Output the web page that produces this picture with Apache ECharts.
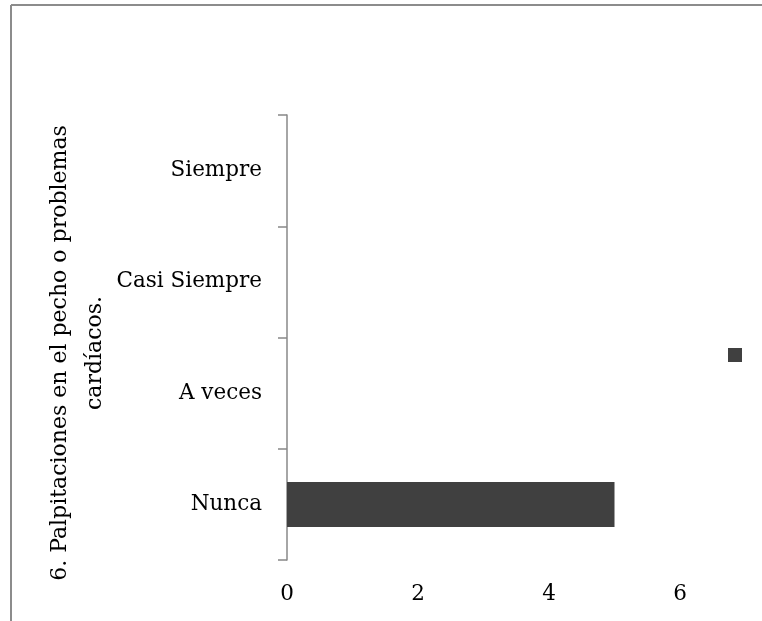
<!DOCTYPE html>
<html>
<head>
<meta charset="utf-8">
<script src="https://cdn.jsdelivr.net/npm/echarts@6/dist/echarts.min.js"></script>
<style>html,body{margin:0;padding:0;background:#fff;}#c{width:762px;height:621px;}</style>
</head>
<body>
<div id="c"></div>
<script>
const categories = ['Nunca', 'A veces', 'Casi Siempre', 'Siempre'];
const values = [5, 0, 0, 0];
const xTicks = [0, 2, 4, 6];
const axisTitle = '6. Palpitaciones en el pecho o problemas\ncardíacos.';
const seriesName = ' ';

const chart = echarts.init(document.getElementById('c'));
chart.setOption({
  animation: false,
  backgroundColor: '#fff',
  graphic: [
    { type: 'line', shape: { x1: 11, y1: 5, x2: 762, y2: 5 }, style: { stroke: '#8c8c8c', lineWidth: 2 } },
    { type: 'line', shape: { x1: 11, y1: 5, x2: 11, y2: 621 }, style: { stroke: '#8c8c8c', lineWidth: 2 } },
    {
      type: 'text', x: 78, y: 353, rotation: Math.PI / 2,
      style: {
        text: axisTitle, fontFamily: 'DejaVu Serif', fontSize: 22, fill: '#000',
        align: 'center', verticalAlign: 'middle', lineHeight: 35
      }
    }
  ],
  legend: {
    left: 728, top: 348, padding: 0,
    itemWidth: 14, itemHeight: 14, icon: 'rect', itemGap: 0,
    data: [seriesName],
    textStyle: { fontSize: 1, color: 'rgba(0,0,0,0)' },
    formatter: () => ''
  },
  grid: { left: 287, top: 115, bottom: 61, right: 82, containLabel: false },
  xAxis: {
    type: 'value', min: xTicks[0], max: xTicks[xTicks.length - 1], interval: 2,
    axisLine: { show: false }, axisTick: { show: false }, splitLine: { show: false },
    axisLabel: { margin: 23, fontFamily: 'DejaVu Serif', fontSize: 21.5, color: '#000' }
  },
  yAxis: {
    type: 'category', data: categories,
    axisLine: { show: true, lineStyle: { color: '#888', width: 1.5 } },
    axisTick: { show: true, length: 9, lineStyle: { color: '#888', width: 1.5 } },
    axisLabel: { margin: 25, fontFamily: 'DejaVu Serif', fontSize: 21.5, color: '#000' }
  },
  series: [{
    name: seriesName, type: 'bar', data: values, barWidth: 45,
    itemStyle: { color: '#404040' }
  }]
});
</script>
</body>
</html>
